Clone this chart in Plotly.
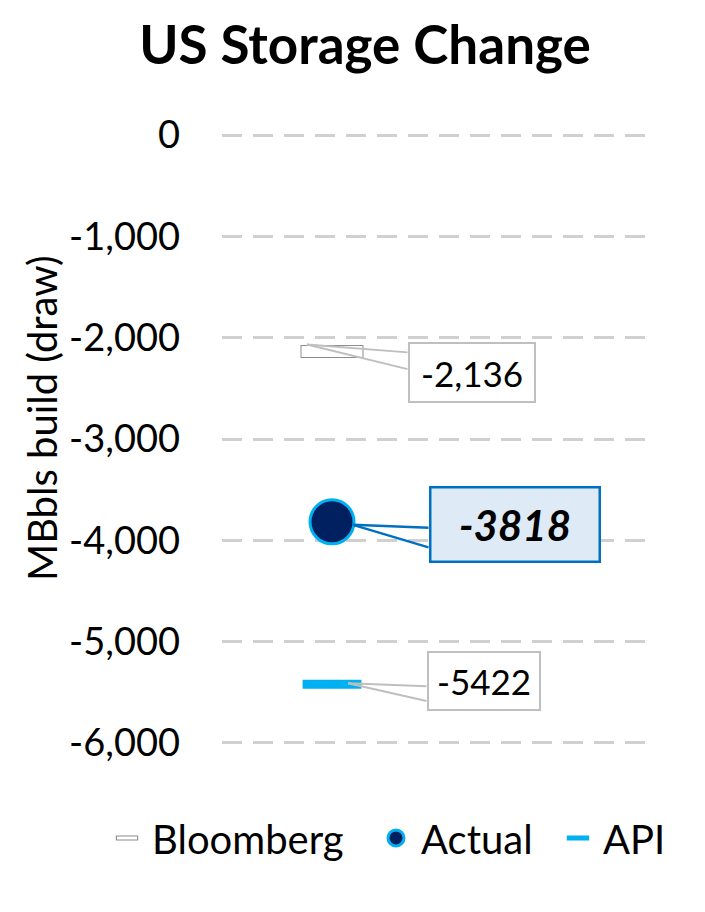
import plotly.graph_objects as go

# ---- data ----
series_names = ["Bloomberg", "Actual", "API"]
bloomberg_value = -2136
actual_value = -3818
api_value = -5422
y_tick_values = [0, -1000, -2000, -3000, -4000, -5000, -6000]
y_tick_labels = ["0", "-1,000", "-2,000", "-3,000", "-4,000", "-5,000", "-6,000"]
y_axis_title = "MBbls build (draw)"
chart_title = "US Storage Change"

FONT = "Lato"
GRAY = "#BFBFBF"
DGRAY = "#8C8C8C"
NAVY = "#002060"
CYAN = "#00B0F0"
BLUE = "#0070C0"

fig = go.Figure()

# Bloomberg: outlined flat rectangle (gray outer + white inner)
fig.add_trace(go.Scatter(
    x=[0], y=[bloomberg_value], mode="markers", name=series_names[0], legend="legend",
    hoverinfo="skip",
    marker=dict(symbol="line-ew", size=45, line=dict(width=13, color=DGRAY)),
))
fig.add_trace(go.Scatter(
    x=[0], y=[bloomberg_value], mode="markers", showlegend=False,
    hoverinfo="skip",
    marker=dict(symbol="line-ew", size=43.6, line=dict(width=11, color="white")),
))
# white inner part of the Bloomberg legend icon (point lies outside the visible x range)
fig.add_trace(go.Scatter(
    x=[10], y=[bloomberg_value], mode="markers", name="", legend="legend4",
    hoverinfo="skip",
    marker=dict(symbol="line-ew", size=14.4, line=dict(width=3, color="white")),
))
# Actual
fig.add_trace(go.Scatter(
    x=[0], y=[actual_value], mode="markers", name=series_names[1], legend="legend2",
    marker=dict(symbol="circle", size=44, color=NAVY, line=dict(width=3, color=CYAN)),
))
# API
fig.add_trace(go.Scatter(
    x=[0], y=[api_value], mode="markers", name=series_names[2], legend="legend3",
    marker=dict(symbol="line-ew", size=42, line=dict(width=9, color=CYAN)),
))


def wedge_lines(value, color, width, apex, q1, q2):
    """Two arrow-only lines forming a callout wedge (pixel offsets)."""
    out = []
    for q in (q1, q2):
        out.append(dict(x=0, y=value, xref="x", yref="y", text="", showarrow=True,
                        arrowhead=0, arrowwidth=width, arrowcolor=color,
                        xshift=apex[0], yshift=apex[1], ax=q[0], ay=q[1]))
    return out


annotations = []
annotations += wedge_lines(bloomberg_value, GRAY, 2, (-25, 7), (102, 8), (102, 25))
annotations += wedge_lines(actual_value, BLUE, 2.5, (21, -3), (77, 3), (77, 23))
annotations += wedge_lines(api_value, GRAY, 2, (16, 1), (80, 3), (80, 18))

annotations += [
    dict(x=0, y=bloomberg_value, xref="x", yref="y", text=f"{bloomberg_value:,}",
         showarrow=False, xshift=140, yshift=-21,
         bordercolor=GRAY, borderwidth=2, bgcolor="white", width=124, height=57,
         borderpad=0, font=dict(family=FONT, size=35, color="black")),
    dict(x=0, y=actual_value, xref="x", yref="y", text=f"<b><i>{actual_value}</i></b>",
         showarrow=False, xshift=183, yshift=-3,
         bordercolor=BLUE, borderwidth=2.5, bgcolor="#DEEBF7", width=167, height=72,
         borderpad=0, font=dict(family=FONT, size=42, color="black")),
    dict(x=0, y=api_value, xref="x", yref="y", text=f"{api_value}",
         showarrow=False, xshift=152, yshift=3,
         bordercolor=GRAY, borderwidth=2, bgcolor="white", width=110, height=56,
         borderpad=0, font=dict(family=FONT, size=35, color="black")),
    dict(x=-0.4206, y=0.5334, xref="paper", yref="paper", text=y_axis_title,
         textangle=-90, showarrow=False, xanchor="center", yanchor="middle",
         font=dict(family=FONT, size=40, color="black")),
]

legend_common = dict(orientation="h", xref="container", yref="container",
                     xanchor="left", yanchor="middle", y=0.0819, itemwidth=40,
                     font=dict(family=FONT, size=40, color="black"),
                     bgcolor="rgba(0,0,0,0)", borderwidth=0)

fig.update_layout(
    width=697, height=904,
    paper_bgcolor="white", plot_bgcolor="white",
    margin=dict(l=214, r=55, t=117, b=159, autoexpand=False),
    title=dict(text=f"<b>{chart_title}</b>", xref="container", x=0.5122, xanchor="center",
               yref="container", y=0.959, yanchor="middle",
               font=dict(family=FONT, size=53, color="black")),
    font=dict(family=FONT, color="black"),
    showlegend=True,
    legend=dict(x=0.1349, **legend_common),
    legend2=dict(x=0.5208, **legend_common),
    legend3=dict(x=0.7819, **legend_common),
    legend4=dict(x=0.1349, **legend_common),
    annotations=annotations,
)
fig.update_xaxes(range=[-0.514, 1.486], showgrid=False, zeroline=False, showticklabels=False,
                 showline=False, ticks="", automargin=False)
fig.update_yaxes(range=[-6100, 100], tickmode="array", tickvals=y_tick_values,
                 ticktext=y_tick_labels, showgrid=True, gridcolor="#D0D0D0", gridwidth=3,
                 griddash="20px,11px", zeroline=False, showline=False, automargin=False,
                 tickfont=dict(family=FONT, size=38, color="black"),
                 ticklabelstandoff=41)

fig.write_html("out.html")
